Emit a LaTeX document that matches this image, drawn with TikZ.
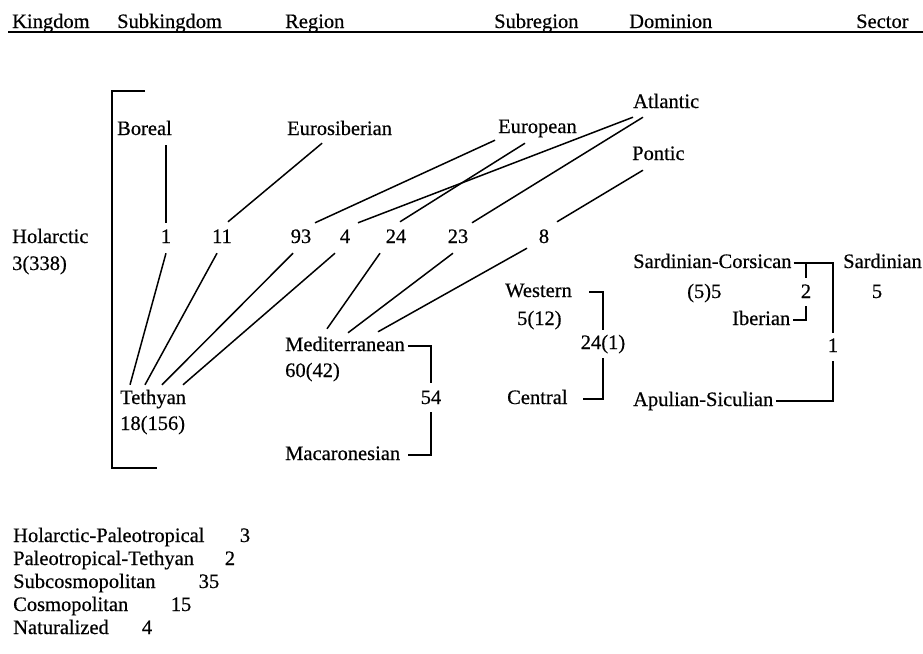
\documentclass[tikz,border=0pt]{standalone}
\usepackage{fontspec}
\setmainfont{Liberation Serif}[FakeBold=0.5]
\usepackage{tikz}
\usetikzlibrary{calc}
\tikzset{
  every node/.style = {font = \fontsize{20.5}{23}\selectfont,
    inner sep=0pt, text height=14pt, text depth=4pt}
}
\tikzset{
  lbl/.style = {anchor=west},
  num/.style = {anchor=center},
  link/.style = {line width=1.5pt},
  brk/.style = {line width=1.1pt}
}

\begin{document}
\begin{tikzpicture}[x=1pt,y=-1pt]
\useasboundingbox (0,0) rectangle (923,653);
\def\rowN{238}

% Column heads
\node[lbl] (hKingdom) at (12,23) {Kingdom};
\node[lbl] (hSubkingdom) at (117,23) {Subkingdom};
\node[lbl] (hRegion) at (285,23) {Region};
\node[lbl] (hSubregion) at (494,23) {Subregion};
\node[lbl] (hDominion) at (629,23) {Dominion};
\node[lbl] (hSector) at (856,23) {Sector};
\coordinate (RuleL) at (8,32);
\coordinate (RuleR) at (923,32);
\draw[line width=1.4pt] (RuleL) -- (RuleR);

% Upper names
\node[lbl] (boreal) at (117,130) {Boreal};
\node[lbl] (eurosib) at (287,130) {Eurosiberian};
\node[lbl] (european) at (498,128) {European};
\node[lbl] (atlantic) at (633,103) {Atlantic};
\node[lbl] (pontic) at (632,155) {Pontic};

% Row of counts
\node[num] (n1) at (166,\rowN) {1};
\node[num] (n11) at (222,\rowN) {11};
\node[num] (n93) at (301,\rowN) {93};
\node[num] (n4) at (345,\rowN) {4};
\node[num] (n24) at (396,\rowN) {24};
\node[num] (n23) at (458,\rowN) {23};
\node[num] (n8) at (544,\rowN) {8};

% Kingdom
\node[lbl] (holarctic) at (12,\rowN) {Holarctic};
\node[lbl] (holarcticN) at (12,265) {3(338)};

% Lower names
\node[lbl] (med) at (285,346) {Mediterranean};
\node[lbl] (medN) at (285,372) {60(42)};
\node[lbl] (tethyan) at (120,399) {Tethyan};
\node[lbl] (tethyanN) at (120,425) {18(156)};
\node[num] (n54) at (431,399) {54};
\node[lbl] (maca) at (285,455) {Macaronesian};

\node[lbl] (western) at (505,292) {Western};
\node[lbl] (westernN) at (517,320) {5(12)};
\node[num] (n241) at (603,344) {24(1)};
\node[lbl] (central) at (507,399) {Central};

\node[lbl] (sardcors) at (633,263) {Sardinian-Corsican};
\node[lbl] (sardcorsN) at (687,293) {(5)5};
\node[num] (n2) at (806,293) {2};
\node[lbl] (iberian) at (732,320) {Iberian};
\node[num] (n1d) at (833,347) {1};
\node[lbl] (apulian) at (633,401) {Apulian-Siculian};
\node[lbl] (sardinian) at (843,263) {Sardinian};
\node[num] (n5) at (877,293) {5};

% Upper links
\draw[link] ([yshift=6pt]n1.north) -- ([yshift=-6pt]boreal.south -| n1.north);
\draw[link] ([shift={(6pt,7pt)}]n11.north) -- ([shift={(-17.5pt,-4pt)}]eurosib.south);
\draw[link] ([shift={(14pt,6pt)}]n93.north) -- ([shift={(-3pt,-3pt)}]european.south west);
\draw[link] ([shift={(13pt,6pt)}]n4.north) -- ([shift={(0pt,-5pt)}]atlantic.south west);
\draw[link] ([shift={(4pt,7pt)}]n24.north) -- ([shift={(27pt,-6pt)}]european.south west);
\draw[link] ([shift={(14pt,6pt)}]n23.north) -- ([shift={(10pt,-5pt)}]atlantic.south west);
\draw[link] ([shift={(13pt,7pt)}]n8.north) -- ([shift={(11pt,-6pt)}]pontic.south west);

% Lower links
\draw[link] ([yshift=-6pt]n1.south) -- ([shift={(10pt,5pt)}]tethyan.north west);
\draw[link] ([shift={(-5pt,-6pt)}]n11.south) -- ([shift={(25pt,5pt)}]tethyan.north west);
\draw[link] ([shift={(-8pt,-6pt)}]n93.south) -- ([shift={(42pt,5pt)}]tethyan.north west);
\draw[link] ([shift={(-10pt,-6pt)}]n4.south) -- ([shift={(63pt,5pt)}]tethyan.north west);
\draw[link] ([shift={(-16pt,-6pt)}]n24.south) -- ([shift={(42pt,8pt)}]med.north west);
\draw[link] ([shift={(-5pt,-6pt)}]n23.south) -- ([shift={(63pt,4pt)}]med.north west);
\draw[link] ([shift={(-17pt,-1pt)}]n8.south) -- ([shift={(93pt,5pt)}]med.north west);

% Brackets
\draw[brk] ([xshift=3pt]med.east) -| ([yshift=7pt]n54.north);
\draw[brk] ([yshift=-4pt]n54.south) |- ([xshift=8pt]maca.east);
\draw[brk] ([xshift=17pt]western.east) -| ([yshift=5pt]n241.north);
\draw[brk] ([yshift=-5pt]n241.south) |- ([xshift=15pt]central.east);
\draw[brk] ([xshift=2pt]sardcors.east) -| ([yshift=5pt]n1d.north);
\draw[brk] (n2.north |- sardcors.east) -- ([yshift=6pt]n2.north);
\draw[brk] ([xshift=3pt]iberian.east) -| ([yshift=-4pt]n2.south);
\draw[brk] ([yshift=-5pt]n1d.south) |- ([xshift=3pt]apulian.east);

% Subkingdom bracket
\coordinate (BrTop) at (145,91);
\coordinate (BrTopL) at (112,91);
\coordinate (BrBotL) at (112,468);
\coordinate (BrBot) at (157,468);
\draw[brk] (BrTop) -- (BrTopL) -- (BrBotL) -- (BrBot);

% Other elements
\node[lbl] (lgHP) at (13,537) {Holarctic-Paleotropical};
\node[num] (lgHPv) at (245,537) {3};
\node[lbl] (lgPT) at (13,560) {Paleotropical-Tethyan};
\node[num] (lgPTv) at (230,560) {2};
\node[lbl] (lgSC) at (13,583) {Subcosmopolitan};
\node[num] (lgSCv) at (209,583) {35};
\node[lbl] (lgC) at (13,606) {Cosmopolitan};
\node[num] (lgCv) at (181,606) {15};
\node[lbl] (lgN) at (13,629) {Naturalized};
\node[num] (lgNv) at (147,629) {4};
\end{tikzpicture}
\end{document}
